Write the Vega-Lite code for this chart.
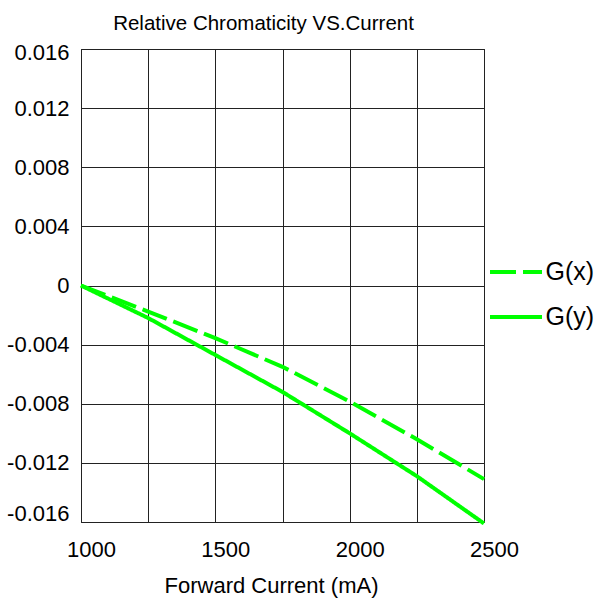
{
  "$schema": "https://vega.github.io/schema/vega-lite/v6.json",
  "width": 403,
  "height": 473,
  "autosize": "none",
  "padding": {"left": 81, "top": 49, "right": 116, "bottom": 79},
  "background": "white",
  "config": {
    "font": "Liberation Sans",
    "view": {"stroke": "#000", "strokeWidth": 1}
  },
  "title": {
    "text": "Relative Chromaticity VS.Current",
    "fontSize": 20.5,
    "fontWeight": "normal",
    "color": "#000",
    "font": "Liberation Sans",
    "dx": -19,
    "offset": 7
  },
  "data": {
    "values": [
      {"current": 1000, "series": "G(x)", "value": 0},
      {"current": 1250, "series": "G(x)", "value": -0.00176},
      {"current": 1500, "series": "G(x)", "value": -0.00356},
      {"current": 1750, "series": "G(x)", "value": -0.0055},
      {"current": 2000, "series": "G(x)", "value": -0.00785},
      {"current": 2250, "series": "G(x)", "value": -0.0104},
      {"current": 2500, "series": "G(x)", "value": -0.0131},
      {"current": 1000, "series": "G(y)", "value": 0},
      {"current": 1250, "series": "G(y)", "value": -0.0022},
      {"current": 1500, "series": "G(y)", "value": -0.0047},
      {"current": 1750, "series": "G(y)", "value": -0.0072},
      {"current": 2000, "series": "G(y)", "value": -0.0100},
      {"current": 2250, "series": "G(y)", "value": -0.0129},
      {"current": 2500, "series": "G(y)", "value": -0.0161}
    ]
  },
  "mark": {"type": "line", "strokeWidth": 4, "strokeCap": "butt", "color": "#00ff00", "clip": false},
  "encoding": {
    "x": {
      "field": "current",
      "type": "quantitative",
      "scale": {"domain": [1000, 2500], "nice": false, "zero": false},
      "axis": {
        "title": "Forward Current (mA)",
        "values": [1000, 1250, 1500, 1750, 2000, 2250, 2500],
        "format": "d",
        "labelExpr": "datum.value % 500 == 0 ? format(datum.value, 'd') : ''",
        "grid": true,
        "gridColor": "#222",
        "gridOpacity": 1,
        "gridWidth": 1,
        "ticks": false,
        "tickSize": 0,
        "domain": false,
        "labelFont": "Liberation Sans",
        "labelFontSize": 22,
        "labelColor": "#000",
        "labelPadding": 34,
        "labelBaseline": "alphabetic",
        "labelOffset": 10,
        "labelFlush": false,
        "labelOverlap": false,
        "titleFont": "Liberation Sans",
        "titleFontSize": 22,
        "titleFontWeight": "normal",
        "titleColor": "#000",
        "titleX": 190,
        "titleY": 70,
        "titleBaseline": "alphabetic"
      }
    },
    "y": {
      "field": "value",
      "type": "quantitative",
      "scale": {"domain": [-0.016, 0.016], "nice": false, "zero": false},
      "axis": {
        "title": null,
        "values": [-0.016, -0.012, -0.008, -0.004, 0, 0.004, 0.008, 0.012, 0.016],
        "labelExpr": "datum.value == 0 ? '0' : (datum.value < 0 ? '-' : '') + format(abs(datum.value), '.3f')",
        "grid": true,
        "gridColor": "#222",
        "gridOpacity": 1,
        "gridWidth": 1,
        "ticks": false,
        "tickSize": 0,
        "domain": false,
        "labelFont": "Liberation Sans",
        "labelFontSize": 22,
        "labelColor": "#000",
        "labelPadding": 12,
        "labelFlush": false,
        "labelOverlap": false,
        "labelOffset": {
          "condition": [
            {"test": "datum.value > 0.015", "value": 3.5},
            {"test": "datum.value < -0.015", "value": -8.7}
          ],
          "value": 0
        }
      }
    },
    "strokeDash": {
      "field": "series",
      "type": "nominal",
      "scale": {"domain": ["G(x)", "G(y)"], "range": [[26, 7], [1, 0]]},
      "legend": {
        "orient": "none",
        "legendX": 407,
        "legendY": 195,
        "title": null,
        "symbolType": "stroke",
        "symbolSize": 2704,
        "symbolStrokeWidth": 4,
        "symbolStrokeColor": "#00ff00",
        "labelFont": "Liberation Sans",
        "labelFontSize": 25,
        "labelColor": "#000",
        "labelOffset": 1.5,
        "rowPadding": 4
      }
    }
  }
}
